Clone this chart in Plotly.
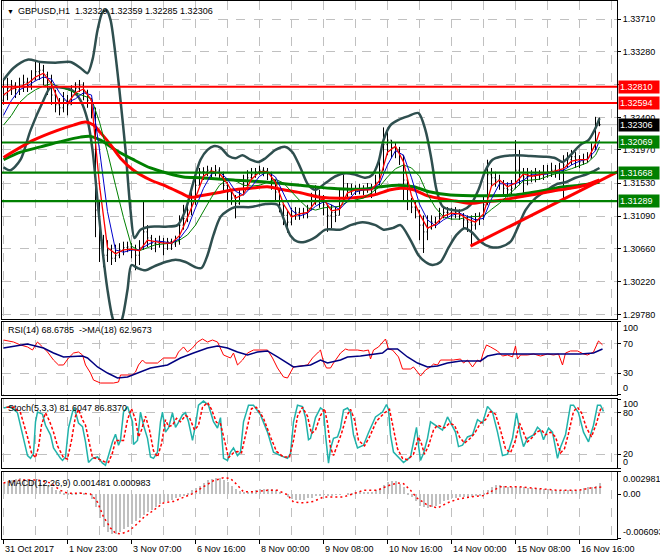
import plotly.graph_objects as go
from plotly.subplots import make_subplots

# ---------------- data ----------------
BAR_H = list(range(0, 300, 2))  # hour index of each (2-hour) bar
CLOSE = [1.3270, 1.3279, 1.3283, 1.3277, 1.3282, 1.3287, 1.3283, 1.3290, 1.3301, 1.3303,
         1.3297, 1.3287, 1.3270, 1.3257, 1.3253, 1.3263, 1.3257, 1.3270, 1.3279, 1.3282,
         1.3274, 1.3263, 1.3253, 1.3117, 1.3077, 1.3057, 1.3064, 1.3053, 1.3057, 1.3064,
         1.3067, 1.3068, 1.3064, 1.3057, 1.3067, 1.3088, 1.3080, 1.3073, 1.3072, 1.3075,
         1.3073, 1.3075, 1.3072, 1.3075, 1.3097, 1.3106, 1.3117, 1.3130, 1.3150, 1.3168,
         1.3168, 1.3170, 1.3166, 1.3170, 1.3164, 1.3150, 1.3141, 1.3133, 1.3126, 1.3137,
         1.3150, 1.3160, 1.3164, 1.3168, 1.3170, 1.3169, 1.3165, 1.3157, 1.3141, 1.3124,
         1.3110, 1.3101, 1.3110, 1.3114, 1.3112, 1.3113, 1.3117, 1.3130, 1.3137, 1.3133,
         1.3124, 1.3110, 1.3114, 1.3110, 1.3130, 1.3144, 1.3144, 1.3145, 1.3144, 1.3145,
         1.3144, 1.3146, 1.3144, 1.3154, 1.3170, 1.3204, 1.3210, 1.3200, 1.3197, 1.3190,
         1.3157, 1.3130, 1.3121, 1.3117, 1.3097, 1.3088, 1.3093, 1.3101, 1.3100, 1.3110,
         1.3114, 1.3114, 1.3112, 1.3114, 1.3110, 1.3104, 1.3101, 1.3097, 1.3104, 1.3106,
         1.3124, 1.3164, 1.3160, 1.3157, 1.3153, 1.3146, 1.3144, 1.3146, 1.3170, 1.3164,
         1.3161, 1.3164, 1.3162, 1.3165, 1.3164, 1.3166, 1.3168, 1.3170, 1.3168, 1.3170,
         1.3177, 1.3184, 1.3188, 1.3184, 1.3181, 1.3184, 1.3186, 1.3197, 1.3230, 1.32306]
HIGH = [1.3290, 1.3293, 1.3290, 1.3287, 1.3293, 1.3297, 1.3293, 1.3303, 1.3314, 1.3314,
        1.3310, 1.3301, 1.3297, 1.3277, 1.3266, 1.3274, 1.3270, 1.3283, 1.3287, 1.3290,
        1.3287, 1.3277, 1.3266, 1.3253, 1.3130, 1.3084, 1.3077, 1.3071, 1.3071, 1.3073,
        1.3075, 1.3075, 1.3073, 1.3071, 1.3077, 1.3130, 1.3097, 1.3084, 1.3080, 1.3083,
        1.3080, 1.3080, 1.3079, 1.3083, 1.3110, 1.3124, 1.3130, 1.3144, 1.3164, 1.3173,
        1.3174, 1.3176, 1.3174, 1.3177, 1.3174, 1.3168, 1.3154, 1.3144, 1.3137, 1.3146,
        1.3164, 1.3170, 1.3173, 1.3173, 1.3176, 1.3174, 1.3173, 1.3168, 1.3157, 1.3146,
        1.3124, 1.3117, 1.3120, 1.3121, 1.3120, 1.3120, 1.3124, 1.3140, 1.3150, 1.3144,
        1.3137, 1.3124, 1.3124, 1.3121, 1.3146, 1.3164, 1.3153, 1.3152, 1.3150, 1.3152,
        1.3150, 1.3153, 1.3152, 1.3164, 1.3184, 1.3227, 1.3223, 1.3210, 1.3206, 1.3201,
        1.3190, 1.3157, 1.3133, 1.3130, 1.3117, 1.3110, 1.3110, 1.3110, 1.3108, 1.3120,
        1.3121, 1.3121, 1.3120, 1.3121, 1.3118, 1.3113, 1.3110, 1.3110, 1.3113, 1.3114,
        1.3137, 1.3184, 1.3173, 1.3168, 1.3164, 1.3157, 1.3154, 1.3157, 1.3210, 1.3197,
        1.3173, 1.3173, 1.3170, 1.3173, 1.3170, 1.3177, 1.3177, 1.3180, 1.3177, 1.3180,
        1.3190, 1.3194, 1.3197, 1.3194, 1.3190, 1.3192, 1.3194, 1.3206, 1.3241, 1.3240]
LOW = [1.3257, 1.3263, 1.3270, 1.3266, 1.3270, 1.3274, 1.3274, 1.3277, 1.3290, 1.3290,
       1.3283, 1.3270, 1.3257, 1.3247, 1.3243, 1.3247, 1.3243, 1.3257, 1.3270, 1.3274,
       1.3263, 1.3253, 1.3239, 1.3081, 1.3048, 1.3041, 1.3048, 1.3044, 1.3048, 1.3053,
       1.3057, 1.3061, 1.3053, 1.3037, 1.3044, 1.3064, 1.3068, 1.3064, 1.3061, 1.3067,
       1.3057, 1.3064, 1.3064, 1.3068, 1.3071, 1.3091, 1.3101, 1.3110, 1.3124, 1.3150,
       1.3157, 1.3162, 1.3160, 1.3162, 1.3157, 1.3141, 1.3130, 1.3124, 1.3106, 1.3124,
       1.3137, 1.3146, 1.3154, 1.3160, 1.3164, 1.3162, 1.3157, 1.3144, 1.3130, 1.3114,
       1.3097, 1.3087, 1.3097, 1.3104, 1.3104, 1.3106, 1.3106, 1.3117, 1.3124, 1.3120,
       1.3110, 1.3088, 1.3093, 1.3101, 1.3110, 1.3130, 1.3134, 1.3137, 1.3137, 1.3138,
       1.3137, 1.3140, 1.3133, 1.3137, 1.3150, 1.3170, 1.3190, 1.3186, 1.3186, 1.3177,
       1.3130, 1.3117, 1.3113, 1.3106, 1.3077, 1.3060, 1.3077, 1.3091, 1.3093, 1.3100,
       1.3106, 1.3108, 1.3104, 1.3106, 1.3104, 1.3093, 1.3088, 1.3071, 1.3091, 1.3097,
       1.3104, 1.3124, 1.3148, 1.3148, 1.3144, 1.3137, 1.3134, 1.3137, 1.3146, 1.3150,
       1.3140, 1.3150, 1.3154, 1.3154, 1.3157, 1.3157, 1.3160, 1.3161, 1.3160, 1.3157,
       1.3130, 1.3173, 1.3177, 1.3173, 1.3173, 1.3177, 1.3180, 1.3186, 1.3197, 1.32285]
FIRST_OPEN = 1.3263
OPEN = [FIRST_OPEN] + CLOSE[:-1]

# moving averages sampled every 4 hours
LINE_H = list(range(0, 297, 4)) + [298]
MA_FAST = [1.3270, 1.3278, 1.3281, 1.3285, 1.3294, 1.3299, 1.3285, 1.3259, 1.3259, 1.3273,
           1.3278, 1.3263, 1.3150, 1.3067, 1.3059, 1.3064, 1.3065, 1.3063, 1.3077, 1.3075,
           1.3073, 1.3073, 1.3083, 1.3107, 1.3133, 1.3162, 1.3169, 1.3166, 1.3152, 1.3133,
           1.3138, 1.3158, 1.3168, 1.3168, 1.3154, 1.3125, 1.3108, 1.3112, 1.3114, 1.3128,
           1.3132, 1.3116, 1.3118, 1.3140, 1.3144, 1.3144, 1.3144, 1.3156, 1.3194, 1.3202,
           1.3181, 1.3136, 1.3112, 1.3093, 1.3098, 1.3109, 1.3113, 1.3112, 1.3105, 1.3101,
           1.3112, 1.3149, 1.3157, 1.3148, 1.3153, 1.3165, 1.3162, 1.3164, 1.3166, 1.3169,
           1.3172, 1.3182, 1.3184, 1.3184, 1.3205, 1.3221]
MA_MID = [1.3243, 1.3263, 1.3277, 1.3282, 1.3289, 1.3294, 1.3291, 1.3273, 1.3260, 1.3265,
          1.3273, 1.3270, 1.3197, 1.3115, 1.3064, 1.3061, 1.3064, 1.3064, 1.3071, 1.3076,
          1.3075, 1.3073, 1.3079, 1.3093, 1.3120, 1.3146, 1.3165, 1.3168, 1.3158, 1.3142,
          1.3137, 1.3148, 1.3162, 1.3168, 1.3161, 1.3140, 1.3117, 1.3109, 1.3113, 1.3122,
          1.3128, 1.3124, 1.3118, 1.3129, 1.3141, 1.3144, 1.3145, 1.3152, 1.3177, 1.3196,
          1.3190, 1.3160, 1.3125, 1.3104, 1.3096, 1.3104, 1.3110, 1.3113, 1.3108, 1.3104,
          1.3106, 1.3132, 1.3152, 1.3152, 1.3152, 1.3157, 1.3164, 1.3164, 1.3165, 1.3168,
          1.3170, 1.3177, 1.3182, 1.3185, 1.3196, 1.3210]
MA_SLOW = [1.3230, 1.3243, 1.3260, 1.3270, 1.3277, 1.3282, 1.3285, 1.3281, 1.3277, 1.3274,
           1.3269, 1.3265, 1.3234, 1.3194, 1.3150, 1.3107, 1.3069, 1.3063, 1.3067, 1.3071,
           1.3072, 1.3073, 1.3077, 1.3084, 1.3097, 1.3116, 1.3134, 1.3150, 1.3158, 1.3156,
           1.3150, 1.3149, 1.3150, 1.3154, 1.3158, 1.3153, 1.3141, 1.3130, 1.3120, 1.3117,
           1.3120, 1.3121, 1.3122, 1.3128, 1.3130, 1.3133, 1.3140, 1.3148, 1.3161, 1.3172,
           1.3177, 1.3173, 1.3162, 1.3138, 1.3120, 1.3108, 1.3105, 1.3105, 1.3108, 1.3108,
           1.3109, 1.3118, 1.3126, 1.3136, 1.3146, 1.3156, 1.3157, 1.3158, 1.3162, 1.3165,
           1.3168, 1.3172, 1.3176, 1.3180, 1.3190, 1.3201]

BB_UP_H = [0, 5, 12, 18.5, 26, 33.5, 38.5, 42, 44.5, 47, 49.5, 51.5, 53.5, 56, 58.5, 61, 63.5, 65.5, 68.5, 73.5,
           81, 87, 91, 94.5, 98.5, 102, 105, 108.5, 112.5, 116, 119.5, 123.5, 127.5, 131, 136, 141, 144.5, 148.5,
           152.5, 156, 161, 166, 171, 176, 181, 184.5, 187.5, 190, 193.5, 197.5, 202.5, 207.5, 211, 214, 216.5,
           219.5, 224.5, 229.5, 233.5, 237.5, 241, 244.5, 248.5, 256, 263.5, 271, 276, 279.5, 283.5, 288.5,
           292.5, 296, 298]
BB_UP = [1.3290, 1.3306, 1.3317, 1.3314, 1.3313, 1.3314, 1.3306, 1.3299, 1.3317, 1.3356, 1.3380, 1.3383, 1.3370,
         1.3323, 1.3263, 1.3197, 1.3117, 1.3080, 1.3091, 1.3095, 1.3095, 1.3097, 1.3117, 1.3150, 1.3184, 1.3197,
         1.3202, 1.3200, 1.3189, 1.3186, 1.3190, 1.3184, 1.3181, 1.3186, 1.3197, 1.3201, 1.3194, 1.3173, 1.3150,
         1.3144, 1.3153, 1.3162, 1.3166, 1.3164, 1.3160, 1.3164, 1.3181, 1.3210, 1.3230, 1.3237, 1.3242, 1.3246,
         1.3223, 1.3184, 1.3144, 1.3122, 1.3117, 1.3117, 1.3124, 1.3144, 1.3170, 1.3184, 1.3188, 1.3190, 1.3189,
         1.3188, 1.3186, 1.3181, 1.3190, 1.3204, 1.3210, 1.3226, 1.3239]
BB_LO_H = [0, 3.5, 8.5, 13.5, 20, 23.5, 28.5, 34.5, 38.5, 42, 44.5, 47, 49.5, 52, 54.5, 57, 59.5, 62, 64, 67,
           71, 76, 81, 86, 91, 96, 99, 102, 105, 108.5, 112.5, 116, 123.5, 131, 137, 140, 143.5, 147, 151, 156,
           161, 168.5, 173.5, 179.5, 186, 190, 194.5, 198.5, 203.5, 207.5, 211, 214.5, 218.5, 222.5, 226.5, 230.5,
           234.5, 238.5, 243.5, 248.5, 253.5, 257, 261, 266, 272, 277, 281, 286, 291, 294.5, 298]
BB_LO = [1.3174, 1.3170, 1.3184, 1.3223, 1.3263, 1.3280, 1.3280, 1.3276, 1.3263, 1.3237, 1.3197, 1.3130, 1.3064,
         1.3011, 1.2974, 1.2958, 1.2974, 1.3011, 1.3044, 1.3040, 1.3037, 1.3043, 1.3048, 1.3051, 1.3048, 1.3041,
         1.3040, 1.3057, 1.3084, 1.3108, 1.3117, 1.3121, 1.3121, 1.3125, 1.3124, 1.3106, 1.3083, 1.3075, 1.3075,
         1.3081, 1.3091, 1.3091, 1.3097, 1.3101, 1.3097, 1.3091, 1.3093, 1.3097, 1.3077, 1.3057, 1.3048, 1.3044,
         1.3048, 1.3067, 1.3084, 1.3093, 1.3087, 1.3075, 1.3068, 1.3068, 1.3075, 1.3093, 1.3117, 1.3133, 1.3144,
         1.3152, 1.3154, 1.3160, 1.3164, 1.3168, 1.3173]

RED_MA_H = [0, 15, 27, 35, 41, 45, 48.5, 53.5, 58.5, 65, 73.5, 82, 88.5, 93.5, 98.5, 107, 115, 123.5, 132, 140,
            148.5, 158.5, 173.5, 185, 193.5, 198.5, 205, 211, 217, 226, 233.5, 240, 248.5, 257, 266, 272, 278.5,
            283.5, 291, 298]
RED_MA = [1.3187, 1.3210, 1.3223, 1.3230, 1.3234, 1.3230, 1.3220, 1.3204, 1.3186, 1.3170, 1.3157, 1.3148, 1.3140,
          1.3134, 1.3136, 1.3140, 1.3144, 1.3146, 1.3148, 1.3144, 1.3140, 1.3134, 1.3133, 1.3137, 1.3144, 1.3146,
          1.3144, 1.3137, 1.3133, 1.3129, 1.3126, 1.3128, 1.3130, 1.3134, 1.3138, 1.3141, 1.3144, 1.3146, 1.3150,
          1.3157]
GREEN_MA_H = [0, 8.5, 18.5, 28.5, 38.5, 43.5, 48.5, 56, 65, 73.5, 82, 90, 98.5, 115, 132, 148.5, 163.5, 180,
              188.5, 197, 205, 213.5, 223.5, 240, 255, 272, 280, 288.5, 298]
GREEN_MA = [1.3184, 1.3194, 1.3201, 1.3208, 1.3214, 1.3215, 1.3210, 1.3197, 1.3184, 1.3173, 1.3166, 1.3161,
            1.3160, 1.3157, 1.3154, 1.3150, 1.3146, 1.3145, 1.3148, 1.3150, 1.3148, 1.3141, 1.3137, 1.3136,
            1.3137, 1.3144, 1.3148, 1.3150, 1.3154]

TREND_H = [233.5, 307]
TREND_P = [1.3069, 1.3168]
RES_LEVELS = [1.32810, 1.32594]
SUP_LEVELS = [1.32069, 1.31668, 1.31289]
BID = 1.32306

PRICE_TICKS = [1.2978, 1.3022, 1.3066, 1.3109, 1.3153, 1.3197, 1.3240, 1.3284, 1.3328, 1.3371]
PRICE_TICK_TEXT = ['1.29780', '1.30220', '1.30660', '1.31090', '1.31530', '1.31970', '1.32400', '',
                   '1.33280', '1.33710']

RSI_H = [0, 5, 8.5, 12, 14.5, 17, 19.5, 22, 25, 27.5, 30, 32.5, 35, 37.5, 39.5, 41, 43.5, 45, 48.5, 55, 57.5,
         58.5, 64.5, 66, 67.5, 69.5, 71, 77, 80, 86, 87.5, 90, 92, 94.5, 97, 99.5, 102, 104.5, 107, 110, 113.5,
         115, 117, 119.5, 122, 125, 132, 134.5, 137, 140, 142, 145, 152, 154.5, 157.5, 158.5, 160, 161.5, 163.5,
         165, 168.5, 171, 172.5, 177, 180, 182.5, 183.5, 185, 187.5, 191, 192.5, 194.5, 197.5, 199.5, 203.5, 205,
         207, 208.5, 211, 213.5, 215, 217, 218.5, 222, 225, 228.5, 230, 232, 234.5, 237, 238.5, 240, 241.5, 243.5,
         247, 249.5, 252, 254.5, 256, 257, 258.5, 262, 265, 268.5, 272, 275, 277.5, 279.5, 281, 283.5, 287, 290,
         292, 295, 297.5, 299.5]
RSI = [75.3, 72.6, 68.5, 65.8, 61.6, 72.6, 65.8, 58.9, 47.9, 41.1, 41.1, 50.7, 57.5, 58.9, 54.8, 41.1, 30.1, 20.5,
       16.4, 16.4, 17.8, 27.4, 27.4, 31.5, 41.1, 47.9, 43.8, 43.8, 50.7, 50.7, 58.9, 65.8, 58.9, 64.4, 72.6, 76.7,
       72.6, 75.3, 72.6, 54.8, 50.7, 57.5, 41.1, 47.9, 57.5, 61.6, 61.6, 50.7, 37.0, 24.7, 23.3, 38.4, 41.1, 50.7,
       58.9, 61.6, 45.2, 37.0, 37.0, 43.8, 57.5, 63.0, 61.6, 61.6, 60.3, 61.6, 49.3, 61.6, 65.8, 76.7, 63.0, 61.6,
       52.1, 35.6, 35.6, 38.4, 31.5, 26.0, 34.2, 38.4, 42.4, 41.1, 47.9, 47.9, 47.9, 49.3, 43.8, 47.9, 38.4, 47.9,
       45.2, 58.9, 68.5, 65.8, 60.3, 53.4, 54.8, 52.1, 67.1, 49.3, 54.8, 54.8, 56.2, 53.4, 56.2, 54.8, 56.2, 41.1,
       57.5, 60.3, 60.3, 56.2, 54.8, 58.9, 74.0, 68.7]
RSI_MA_H = [0, 12, 20, 25, 30, 39.5, 42, 47, 52, 57, 62, 67, 73.5, 82, 88.5, 95, 102, 107, 112, 117, 122, 127,
            132, 137, 142, 145, 153.5, 158.5, 162, 168.5, 172, 178.5, 189.5, 192, 197, 202, 207, 212, 217, 222,
            228.5, 238.5, 242, 247, 255, 275, 288.5, 295, 299.5]
RSI_MA = [64.4, 69.9, 64.4, 57.5, 52.1, 53.4, 50.7, 38.4, 30.1, 23.3, 24.7, 30.1, 37.0, 41.1, 50.7, 57.5, 64.4,
          67.1, 64.4, 58.9, 54.8, 58.9, 60.3, 52.1, 43.8, 38.4, 41.1, 47.9, 43.8, 47.9, 52.1, 53.4, 57.5, 63.0,
          63.0, 52.1, 43.8, 38.4, 39.7, 43.8, 46.6, 46.6, 53.4, 56.2, 56.2, 56.2, 56.2, 57.5, 63.0]

STO_H = [0, 3.5, 7, 8.5, 10, 12, 13.5, 15, 16, 17, 19.5, 21, 23.5, 25, 28.5, 29.5, 31, 32.5, 34.5, 35.5, 37.5,
         39.5, 41, 42.5, 44.5, 47, 49.5, 51, 52.5, 54.5, 56, 57.5, 58.5, 60, 62, 64.5, 65, 67, 68.5, 70, 72, 73.5,
         75, 77, 78.5, 79.5, 81, 82.5, 84.5, 86, 87.5, 89.5, 91, 92.5, 94.5, 96, 97.5, 100, 102.5, 105, 107,
         108.5, 110, 112, 113.5, 115, 117, 118.5, 120, 122.5, 125, 128.5, 132, 135, 138.5, 142, 143.5, 145, 147,
         149.5, 151, 152.5, 153.5, 156, 158.5, 160, 161, 162, 162.5, 163.5, 165, 167, 168.5, 170, 172, 173.5, 175,
         177, 180, 182.5, 186, 189.5, 191.5, 192.5, 193.5, 195, 197.5, 200, 203.5, 205, 206.5, 207.5, 208.5, 210,
         212, 213.5, 216, 219.5, 222, 224.5, 226, 227.5, 229.5, 232, 234.5, 237, 239.5, 242, 244.5, 247, 249.5,
         252, 254.5, 256.5, 258.5, 260, 262, 265, 267, 268.5, 270, 272.5, 274.5, 277, 278.5, 281, 283.5, 285,
         287.5, 290, 292.5, 295, 297, 298.5, 300]
STO_MAIN = [87, 89, 80, 62, 43, 18, 14, 21, 67, 81, 78, 62, 48, 29, 14, 11, 16, 58, 81, 87, 65, 60, 38, 8, 14, 16,
            7, 4, 18, 38, 49, 33, 40, 81, 89, 67, 34, 40, 81, 62, 43, 16, 14, 23, 67, 81, 52, 58, 80, 59, 66, 77, 80,
            67, 40, 62, 91, 97, 91, 67, 58, 73, 14, 11, 23, 29, 18, 23, 67, 91, 91, 77, 52, 23, 18, 14, 21, 67, 91,
            89, 73, 41, 43, 73, 87, 84, 48, 14, 7, 28, 43, 45, 58, 84, 87, 81, 48, 29, 33, 51, 74, 81, 92, 85, 48,
            23, 16, 8, 16, 36, 59, 33, 11, 21, 43, 67, 62, 55, 74, 60, 52, 31, 33, 45, 48, 70, 65, 89, 81, 52, 18,
            20, 43, 80, 48, 31, 43, 48, 59, 55, 41, 58, 52, 14, 30, 48, 91, 91, 80, 52, 38, 62, 91, 91, 82]
STO_SIG_H = [1.5, 5, 8.5, 10, 12, 14, 16, 17.5, 19, 21, 23, 25, 27, 30, 32, 34, 36, 37.5, 39.5, 41, 42.5, 44.5,
             47.5, 50.5, 52.5, 54.5, 56, 58, 60, 62, 64, 66, 67.5, 69, 71, 73, 75, 77, 79, 81, 82.5, 84.5, 86.5,
             88.5, 91, 93, 95.5, 97.5, 99.5, 102, 104, 106.5, 108.5, 110.5, 112.5, 115, 117, 119, 121.5, 124,
             126.5, 130, 133.5, 136.5, 140, 143, 145, 147, 149.5, 152, 154, 156, 158.5, 160.5, 162, 163.5, 165,
             167, 169, 171.5, 173.5, 175.5, 177.5, 180.5, 183, 186.5, 190.5, 193, 195, 197, 199.5, 202, 205,
             207.5, 209, 210.5, 212.5, 215, 217, 220.5, 223, 225.5, 228, 230.5, 233, 235.5, 238.5, 241, 243.5,
             246, 248.5, 251, 253.5, 256, 258, 260, 262, 264, 266.5, 269, 271, 273.5, 276, 278.5, 280.5, 282.5,
             285, 287, 289, 291.5, 294, 296.5, 298.5, 300]
STO_SIG = [88, 88, 80, 66, 45, 22, 15, 30, 62, 80, 68, 52, 32, 15, 13, 40, 75, 85, 70, 62, 40, 15, 13, 9, 8, 22,
           40, 40, 40, 70, 86, 70, 45, 55, 75, 55, 25, 16, 35, 70, 60, 62, 72, 67, 76, 73, 55, 62, 88, 95, 85, 66,
           64, 40, 15, 22, 24, 22, 55, 86, 88, 72, 45, 24, 16, 16, 40, 75, 88, 75, 50, 55, 76, 86, 65, 30, 18, 33,
           50, 75, 85, 70, 40, 32, 45, 68, 80, 85, 58, 28, 14, 12, 20, 45, 35, 20, 32, 55, 62, 58, 65, 62, 45, 36,
           42, 50, 65, 70, 82, 78, 55, 28, 22, 40, 65, 52, 38, 43, 52, 55, 48, 52, 45, 22, 28, 50, 82, 88, 80, 58,
           45, 65, 85, 87]

MACD_HIST = [0.0015, 0.0017, 0.0019, 0.0021, 0.0022, 0.0021, 0.0020, 0.0019, 0.0017, 0.0015,
             0.0014, 0.0012, 0.0009, 0.0006, 0.0004, 0.0002, 0.0001, 0.0002, 0.0002, 0.0003,
             0.0002, 0.0000, -0.0007, -0.0017, -0.0032, -0.0044, -0.0051, -0.0054, -0.0054, -0.0052,
             -0.0048, -0.0045, -0.0040, -0.0036, -0.0032, -0.0028, -0.0025, -0.0021, -0.0017, -0.0013,
             -0.0011, -0.0009, -0.0008, -0.0006, -0.0004, -0.0002, 0.0001, 0.0005, 0.0008, 0.0011,
             0.0015, 0.0019, 0.0021, 0.0022, 0.0022, 0.0019, 0.0016, 0.0011, 0.0007, 0.0004,
             0.0003, 0.0003, 0.0003, 0.0005, 0.0007, 0.0007, 0.0007, 0.0007, 0.0005, 0.0003,
             0.0000, -0.0004, -0.0007, -0.0008, -0.0008, -0.0008, -0.0006, -0.0005, -0.0003, -0.0002,
             -0.0001, -0.0002, -0.0002, -0.0001, -0.0001, 0.0000, 0.0001, 0.0002, 0.0003, 0.0003,
             0.0003, 0.0003, 0.0003, 0.0005, 0.0008, 0.0012, 0.0016, 0.0018, 0.0017, 0.0014,
             0.0009, 0.0001, -0.0004, -0.0009, -0.0016, -0.0018, -0.0019, -0.0018, -0.0016, -0.0013,
             -0.0010, -0.0008, -0.0006, -0.0005, -0.0004, -0.0004, -0.0004, -0.0004, -0.0003, -0.0002,
             0.0001, 0.0006, 0.0010, 0.0012, 0.0012, 0.0011, 0.0010, 0.0010, 0.0010, 0.0010,
             0.0009, 0.0008, 0.0008, 0.0008, 0.0007, 0.0007, 0.0007, 0.0006, 0.0006, 0.0005,
             0.0005, 0.0005, 0.0005, 0.0005, 0.0006, 0.0008, 0.0009, 0.0010, 0.0011, 0.001481]
MACD_SIG_H = [0, 8.5, 17, 23.5, 28.5, 32, 38.5, 43.5, 47, 50, 53.5, 56, 58.5, 62, 65, 70, 75, 80, 85, 90, 95,
              100, 105, 110, 113.5, 117, 120, 125, 132, 137, 142, 145, 150, 155, 160, 170, 175, 180, 187, 192,
              197, 200, 203.5, 207, 212, 217, 222, 227, 233.5, 240, 243.5, 248.5, 257, 267, 277, 287, 293.5, 300]
MACD_SIG = [0.0015, 0.0019, 0.0019, 0.0015, 0.0005, 0.0001, 0.0001, 0.0000, -0.0011, -0.0031, -0.0046, -0.0053,
            -0.0054, -0.0051, -0.0045, -0.0032, -0.0022, -0.0012, -0.0010, -0.0005, 0.0001, 0.0010, 0.0018,
            0.0022, 0.0021, 0.0012, 0.0003, 0.0003, 0.0005, 0.0005, -0.0001, -0.0011, -0.0012, -0.0010, -0.0004,
            -0.0004, 0.0001, 0.0005, 0.0005, 0.0011, 0.0015, 0.0014, 0.0005, -0.0006, -0.0015, -0.0019, -0.0012,
            -0.0007, -0.0004, -0.0002, 0.0003, 0.0010, 0.0010, 0.0008, 0.0005, 0.0005, 0.0008, 0.000983]

X_TICK_H = [0, 32, 64, 96, 128, 160, 192, 224, 256, 288]
X_TICK_TEXT = ['31 Oct 2017', '1 Nov 23:00', '3 Nov 07:00', '6 Nov 16:00', '8 Nov 00:00', '9 Nov 08:00',
               '10 Nov 16:00', '14 Nov 00:00', '15 Nov 08:00', '16 Nov 16:00']
X_GRID_MINOR = [16, 48, 80, 112, 144, 176, 208, 240, 272, 304]

RSI_LEVELS = [100, 70, 30, 0]
STO_LEVELS = [100, 80, 20, 0]
MACD_LEVELS = [0.002981, 0.0, -0.006093]
MACD_LEVEL_TEXT = ['0.002981', '0.00', '-0.006093']

HEADER = 'GBPUSD,H1\u00a0\u00a01.32329 1.32359 1.32285 1.32306'
RSI_TITLE = 'RSI(14) 68.6785\u00a0\u00a0->MA(18) 62.9673'
STO_TITLE = 'Stoch(5,3,3) 81.6047 86.8370'
MACD_TITLE = 'MACD(12,26,9) 0.001481 0.000983'

# ---------------- figure ----------------
FONT = 'Liberation Sans, Arial, sans-serif'
FS = 9
GRID = '#C0C0C0'
SLATE = '#2F4F4F'

fig = make_subplots(rows=4, cols=1, shared_xaxes=True, vertical_spacing=0.0)

# price bars
fig.add_trace(go.Ohlc(x=BAR_H, open=OPEN, high=HIGH, low=LOW, close=CLOSE,
                      increasing=dict(line=dict(color='black', width=1)),
                      decreasing=dict(line=dict(color='black', width=1)),
                      tickwidth=0.25, hoverinfo='skip', showlegend=False), row=1, col=1)

def line(x, y, color, width, row=1, dash='solid', shape='linear'):
    fig.add_trace(go.Scatter(x=x, y=y, mode='lines', line=dict(color=color, width=width, dash=dash,
                                                               shape=shape, smoothing=0.8),
                             hoverinfo='skip', showlegend=False), row=row, col=1)

line(BB_UP_H, BB_UP, SLATE, 2.5, shape='spline')
line(BB_LO_H, BB_LO, SLATE, 2.5, shape='spline')
line(GREEN_MA_H, GREEN_MA, '#008000', 3, shape='spline')
line(RED_MA_H, RED_MA, '#FF0000', 3, shape='spline')
line(LINE_H, MA_SLOW, '#008000', 1)
line(LINE_H, MA_MID, '#0000CD', 1)
line(LINE_H, MA_FAST, '#FF0000', 1.3)
line(TREND_H, TREND_P, '#FF0000', 3)

# RSI
line(RSI_H, RSI, '#FF0000', 1, row=2)
line(RSI_MA_H, RSI_MA, '#000080', 1.5, row=2)
# Stochastic
line(STO_H, STO_MAIN, '#20B2AA', 1.5, row=3)
line(STO_SIG_H, STO_SIG, '#FF0000', 1.5, row=3, dash='3px,2px')
# MACD
fig.add_trace(go.Bar(x=BAR_H, y=MACD_HIST, width=1.0, marker=dict(color='#C0C0C0', line=dict(width=0)),
                     hoverinfo='skip', showlegend=False), row=4, col=1)
line(MACD_SIG_H, MACD_SIG, '#FF0000', 1.5, row=4, dash='2px,3px')

shapes = []
for lv in RES_LEVELS:
    shapes.append(dict(type='line', xref='x domain', yref='y', x0=0, x1=1, y0=lv, y1=lv,
                       line=dict(color='#FF0000', width=2.2)))
for lv in SUP_LEVELS:
    shapes.append(dict(type='line', xref='x domain', yref='y', x0=0, x1=1, y0=lv, y1=lv,
                       line=dict(color='#008000', width=2.2)))
shapes.append(dict(type='line', xref='x domain', yref='y', x0=0, x1=1, y0=BID, y1=BID,
                   line=dict(color='#C0C0C0', width=1), layer='below'))

ann = []
ann.append(dict(xref='paper', yref='paper', x=0, y=1, xanchor='left', yanchor='top', xshift=3, yshift=-5,
                text='▼', showarrow=False, font=dict(family=FONT, size=7, color='black')))
ann.append(dict(xref='paper', yref='paper', x=0, y=1, xanchor='left', yanchor='top', xshift=14, yshift=-3,
                text=HEADER, showarrow=False, font=dict(family=FONT, size=FS, color='black')))
for txt, ax, ys in [(RSI_TITLE, 'y2 domain', -1), (STO_TITLE, 'y3 domain', -2), (MACD_TITLE, 'y4 domain', -4)]:
    ann.append(dict(xref='paper', yref=ax, x=0, y=1, xanchor='left', yanchor='top', xshift=4, yshift=ys,
                    text=txt, showarrow=False, font=dict(family=FONT, size=FS, color='black')))
# price boxes
boxes = [(RES_LEVELS[0], '#FF0000'), (RES_LEVELS[1], '#FF0000'), (BID, '#000000'),
         (SUP_LEVELS[0], '#008000'), (SUP_LEVELS[1], '#008000'), (SUP_LEVELS[2], '#008000')]
for lv, col in boxes:
    ann.append(dict(xref='paper', yref='y', x=1, y=lv, xanchor='left', yanchor='middle', xshift=1,
                    text='%.5f' % lv, showarrow=False, bgcolor=col, width=38, align='left', borderpad=1,
                    font=dict(family=FONT, size=FS, color='white')))
# sub-panel scale labels
for lv, ys in zip(RSI_LEVELS, [-6, 0, 0, 7]):
    ann.append(dict(xref='paper', yref='y2', x=1, y=lv, xanchor='left', yanchor='middle', xshift=4, yshift=ys,
                    text=str(lv), showarrow=False, font=dict(family=FONT, size=FS, color='black')))
for lv, ys in zip(STO_LEVELS, [-5, 0, 0, 6]):
    ann.append(dict(xref='paper', yref='y3', x=1, y=lv, xanchor='left', yanchor='middle', xshift=4, yshift=ys,
                    text=str(lv), showarrow=False, font=dict(family=FONT, size=FS, color='black')))
for lv, txt, ys in zip(MACD_LEVELS, MACD_LEVEL_TEXT, [-7, 0, 7]):
    ann.append(dict(xref='paper', yref='y4', x=1, y=lv, xanchor='left', yanchor='middle', xshift=4, yshift=ys,
                    text=txt, showarrow=False, font=dict(family=FONT, size=FS, color='black')))
# time labels
for h, txt in zip(X_TICK_H, X_TICK_TEXT):
    ann.append(dict(xref='x4', yref='paper', x=h, y=0, xanchor='left', yanchor='top', xshift=-1, yshift=-3,
                    text=txt, showarrow=False, font=dict(family=FONT, size=FS, color='black')))

fig.update_layout(width=660, height=560, margin=dict(l=2, r=43, t=1, b=21),
                  paper_bgcolor='white', plot_bgcolor='white', showlegend=False,
                  shapes=shapes, annotations=ann, bargap=0, hovermode=False,
                  font=dict(family=FONT, size=FS, color='black'))

# half-hour offset keeps the 1px bar strokes on pixel centres (crisp black)
xcommon = dict(range=[-0.75, 306.75], showline=True, mirror=True, linecolor='black', linewidth=1,
               zeroline=False, showgrid=True, gridcolor=GRID, griddash='dash', gridwidth=1,
               tickvals=X_TICK_H, showticklabels=False, ticks='', fixedrange=True,
               rangeslider=dict(visible=False),
               minor=dict(tickvals=X_GRID_MINOR, showgrid=True, gridcolor=GRID, griddash='dash', ticks=''))
for i in range(1, 5):
    key = 'xaxis' if i == 1 else 'xaxis%d' % i
    d = dict(xcommon)
    if i == 4:
        d.update(ticks='outside', ticklen=4, tickcolor='black')
    fig.layout[key].update(**d)

ycommon = dict(side='right', showline=True, mirror=True, linecolor='black', linewidth=1, zeroline=False,
               showgrid=True, gridcolor=GRID, griddash='dash', ticks='outside', ticklen=3, tickcolor='black',
               tickfont=dict(family=FONT, size=FS, color='black'), fixedrange=True)
fig.layout.yaxis.update(**ycommon, domain=[0.40892, 1.0], range=[1.29722, 1.3395],
                        tickvals=PRICE_TICKS, ticktext=PRICE_TICK_TEXT)
fig.layout.yaxis2.update(**ycommon, domain=[0.26766, 0.40335], range=[0, 100],
                         tickvals=RSI_LEVELS, ticktext=['' for _ in RSI_LEVELS])
fig.layout.yaxis3.update(**ycommon, domain=[0.13197, 0.26022], range=[0, 100],
                         tickvals=STO_LEVELS, ticktext=['' for _ in STO_LEVELS])
fig.layout.yaxis4.update(**ycommon, domain=[0.0, 0.12454], range=[-0.006093, 0.002981],
                         tickvals=MACD_LEVELS, ticktext=['' for _ in MACD_LEVELS])
fig.layout.yaxis4.showgrid = False

fig.write_html('out.html', config={'displayModeBar': False},
               post_script="document.body.style.margin='0px';document.body.style.overflow='hidden';")
